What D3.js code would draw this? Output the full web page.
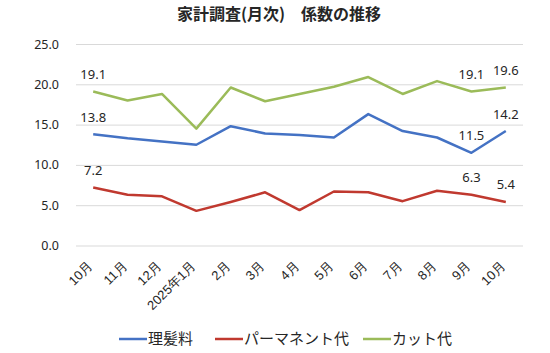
<!DOCTYPE html>
<html>
<head>
<meta charset="utf-8">
<script src="https://cdn.jsdelivr.net/npm/d3@7"></script>
<style>
  body { margin: 0; background: #fff; }
  svg { display: block; font-family: "Noto Sans CJK JP", "Noto Sans", sans-serif; }
</style>
</head>
<body>
<div id="chart"></div>
<script>
// 家計調査(月次) 係数の推移
const months = ['10月', '11月', '12月', '2025年1月', '2月', '3月', '4月', '5月', '6月', '7月', '8月', '9月', '10月'];
const rihatsu = [13.8, 13.3, 12.9, 12.5, 14.8, 13.9, 13.7, 13.4, 16.3, 14.2, 13.4, 11.5, 14.2];
const perm = [7.2, 6.3, 6.1, 4.3, 5.4, 6.6, 4.4, 6.7, 6.6, 5.5, 6.8, 6.3, 5.4];
const cut = [19.1, 18.0, 18.8, 14.5, 19.6, 17.9, 18.8, 19.7, 20.9, 18.8, 20.4, 19.1, 19.6];
const yTicks = [0, 5, 10, 15, 20, 25];
const labelIdx = [0, 11, 12];

const series = [
  { name: '理髪料', values: rihatsu, color: '#4472C4' },
  { name: 'パーマネント代', values: perm, color: '#C0392F' },
  { name: 'カット代', values: cut, color: '#9BBB59' }
];

const width = 550, height = 353;
const svg = d3.select('#chart').append('svg')
  .attr('width', width)
  .attr('height', height);

const x = d3.scaleBand().domain(d3.range(months.length)).range([76, 523]);
const y = d3.scaleLinear().domain([0, 25]).range([245.5, 44]);
const cx = i => x(i) + x.bandwidth() / 2;

// Title
svg.append('text')
  .attr('x', 279).attr('y', 19.5)
  .attr('text-anchor', 'middle')
  .attr('font-size', '16px')
  .attr('font-weight', 'bold')
  .attr('fill', '#262626')
  .text('家計調査(月次)\u3000係数の推移');

// Gridlines + y axis
const yAxis = svg.append('g')
  .attr('transform', 'translate(76,0)')
  .call(d3.axisLeft(y).tickValues(yTicks).tickSize(-(523 - 76)).tickFormat(d3.format('.1f')));
yAxis.select('.domain').remove();
yAxis.selectAll('.tick line').attr('stroke', '#D9D9D9').attr('stroke-width', 1);
yAxis.selectAll('.tick text')
  .attr('x', -17)
  .attr('font-size', '12.5px')
  .attr('fill', '#262626')
  .attr('font-family', '"Noto Sans", sans-serif');

// x labels
const xAxis = svg.append('g')
  .attr('transform', 'translate(0,245.5)')
  .call(d3.axisBottom(x).tickSize(0).tickFormat(i => months[i]));
xAxis.select('.domain').remove();
xAxis.selectAll('.tick text')
  .attr('font-size', '13px')
  .attr('fill', '#262626')
  .attr('text-anchor', 'end')
  .attr('dy', '0.35em')
  .attr('transform', 'translate(-3,18) rotate(-45)')
  .attr('y', 0);

// Lines
const line = d3.line().x((d, i) => cx(i)).y(d => y(d));
svg.append('g').selectAll('path')
  .data(series)
  .join('path')
  .attr('d', s => line(s.values))
  .attr('fill', 'none')
  .attr('stroke', s => s.color)
  .attr('stroke-width', 2.5)
  .attr('stroke-linejoin', 'round');

// Data labels
series.forEach(s => {
  svg.append('g').selectAll('text')
    .data(labelIdx)
    .join('text')
    .attr('x', i => cx(i))
    .attr('y', i => y(s.values[i]) - 12.5)
    .attr('text-anchor', 'middle')
    .attr('font-size', '13px')
    .attr('fill', '#262626')
    .attr('font-family', '"Noto Sans", sans-serif')
    .text(i => s.values[i].toFixed(1));
});

// Legend
const legendX = [119, 215, 363];
const legend = svg.append('g').selectAll('g')
  .data(series)
  .join('g')
  .attr('transform', (s, i) => `translate(${legendX[i]},339)`);
legend.append('line')
  .attr('x1', 0).attr('x2', 28)
  .attr('stroke', s => s.color)
  .attr('stroke-width', 2.5);
legend.append('text')
  .attr('x', 29).attr('dy', '0.35em')
  .attr('font-size', '15px')
  .attr('fill', '#262626')
  .text(s => s.name);
</script>
</body>
</html>
